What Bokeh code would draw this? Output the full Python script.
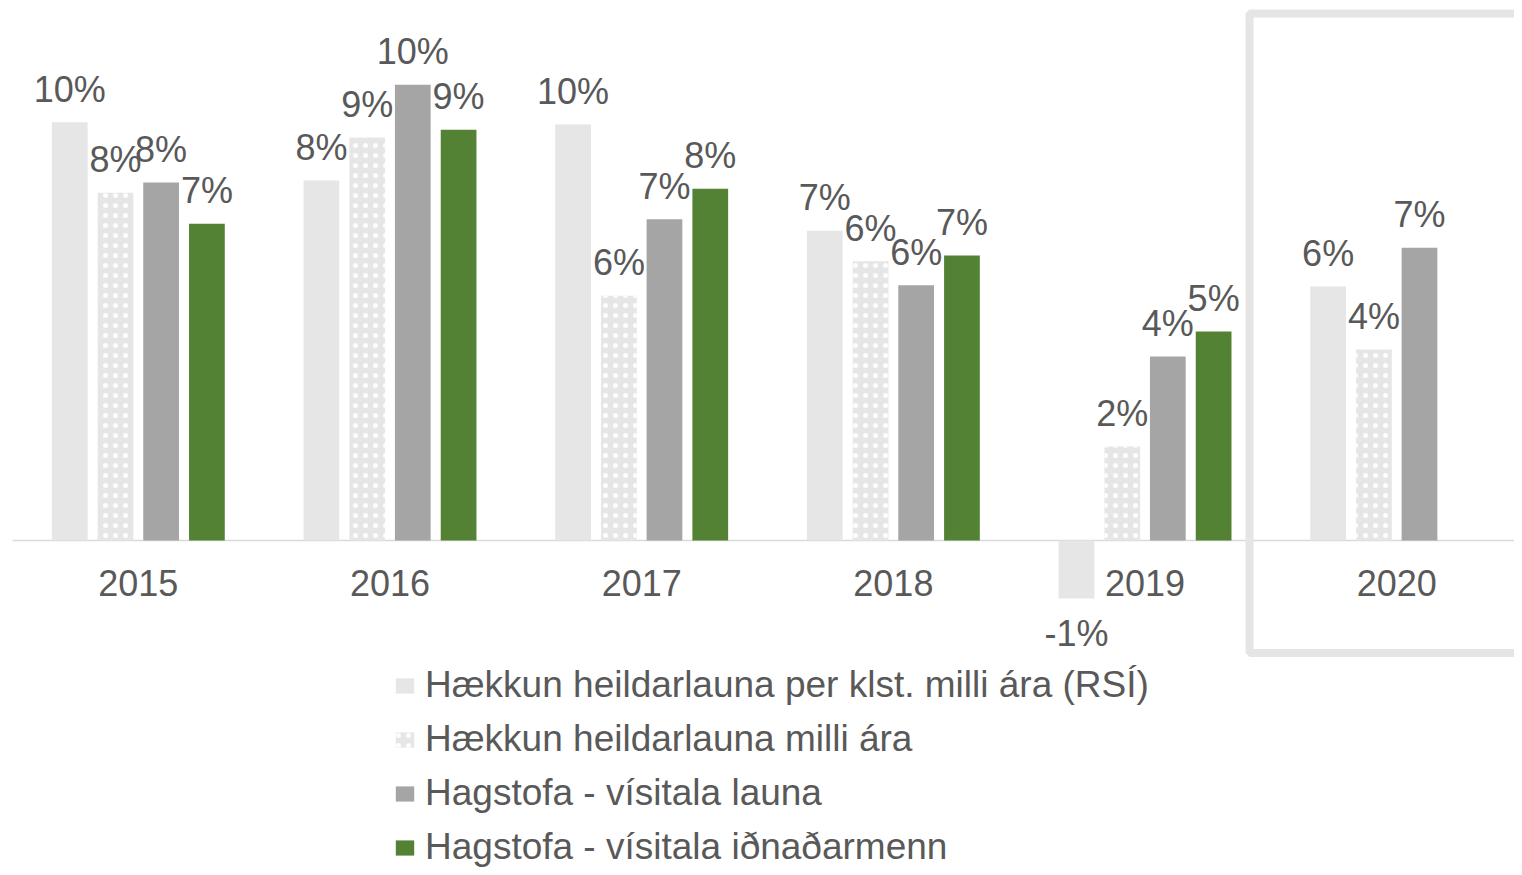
import math
from bokeh.plotting import figure
from bokeh.models import ColumnDataSource, Range1d, Span, BoxAnnotation, Legend, LegendItem
from bokeh.core.properties import value
from bokeh.embed import file_html
from bokeh.resources import INLINE

years = ["2015", "2016", "2017", "2018", "2019", "2020"]
series_names = [
    "Hækkun heildarlauna per klst. milli ára (RSÍ)",
    "Hækkun heildarlauna milli ára",
    "Hagstofa - vísitala launa",
    "Hagstofa - vísitala iðnaðarmenn",
]
rsi_hourly = [9.57, 8.24, 9.52, 7.09, -1.33, 5.81]
total_wage = [7.96, 9.22, 5.60, 6.39, 2.15, 4.37]
wage_index = [8.19, 10.43, 7.35, 5.84, 4.21, 6.70]
trades_index = [7.25, 9.40, 8.05, 6.52, 4.78, float("nan")]

series = [rsi_hourly, total_wage, wage_index, trades_index]
colors = ["#e6e6e6", "#e6e6e6", "#a5a5a5", "#548235"]
offsets = [-0.2725, -0.0905, 0.0905, 0.2725]
bar_width = 0.142

FONT = "Liberation Sans"
TXT = "#595959"

centers = [i + 0.5 for i in range(len(years))]

p = figure(
    width=1514, height=867,
    x_range=Range1d(0, 5.968),
    y_range=Range1d(-7.483, 12.357),
    x_axis_location=None, y_axis_location=None,
    output_backend="svg", toolbar_location=None,
    min_border_left=12, min_border_right=0, min_border_top=0, min_border_bottom=0,
    outline_line_color=None,
)
p.xgrid.visible = False
p.ygrid.visible = False

p.add_layout(Span(location=0, dimension="width", line_color="#d9d9d9", line_width=1.5, level="underlay"))

items = []
for i, (vals, col, off, name) in enumerate(zip(series, colors, offsets, series_names)):
    xs = [c + off for c in centers]
    src = ColumnDataSource(dict(x=xs, v=vals))
    kw = dict(fill_color=col, line_color=None)
    if i == 1:
        kw.update(hatch_pattern="dot", hatch_color="white", hatch_scale=10, hatch_weight=0.5, hatch_alpha=0.9)
    r = p.vbar(x="x", top="v", bottom=0, width=bar_width, source=src, **kw)
    items.append(LegendItem(label=name, renderers=[r]))

    lx, lv, lt, lo = [], [], [], []
    for x, v in zip(xs, vals):
        if v is None or (isinstance(v, float) and math.isnan(v)):
            continue
        lx.append(x)
        lv.append(v)
        lt.append(f"{v:.0f}%")
        lo.append(-33 if v >= 0 else 35)
    lsrc = ColumnDataSource(dict(x=lx, v=lv, t=lt, o=lo))
    p.text(x="x", y="v", text="t", y_offset="o", source=lsrc,
           text_font=value(FONT), text_font_size="36px", text_color=TXT,
           text_align="center", text_baseline="middle")

csrc = ColumnDataSource(dict(x=centers, y0=[0] * len(years), t=years))
p.text(x="x", y="y0", text="t", source=csrc, y_offset=43,
       text_font=value(FONT), text_font_size="36px", text_color=TXT,
       text_align="center", text_baseline="middle")

p.add_layout(BoxAnnotation(left=4.915, right=7, top=12.06, bottom=-2.574,
                           fill_color=None, fill_alpha=0, line_color="#e5e5e5",
                           line_alpha=1, line_width=8))

legend = Legend(items=items, location=(381, -1), orientation="vertical",
                label_text_font=FONT, label_text_font_size="37px", label_text_color=TXT,
                glyph_width=23, glyph_height=19, label_standoff=9, spacing=12,
                padding=0, margin=0, border_line_color=None, background_fill_alpha=0)
p.add_layout(legend)

open("out.html", "w").write(file_html(p, INLINE))
